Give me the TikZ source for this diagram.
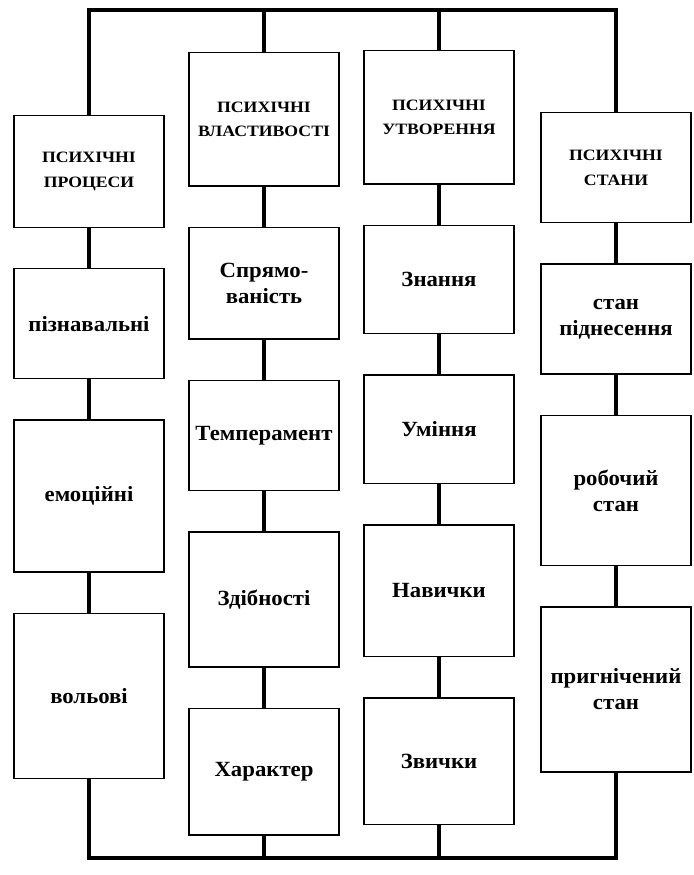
\documentclass[tikz,border=0pt]{standalone}
\usepackage{fontspec}
\setmainfont{Liberation Serif}
\newfontfamily\headfont{Liberation Serif}[FakeStretch=1.12]
\newfontfamily\itemfont{Liberation Serif}[FakeStretch=1.05]
\usetikzlibrary{positioning}

\begin{document}
\begin{tikzpicture}[x=0.03cm,y=-0.03cm,node distance=1.2cm]
        \tikzstyle{box}=[rectangle,draw,line width=1.2pt,minimum width=4.5cm,align=center,inner sep=2pt]
        \tikzstyle{head}=[box,font=\headfont\bfseries\fontsize{13.5}{21}\selectfont]
        \tikzstyle{item}=[box,font=\itemfont\bfseries\fontsize{18.5}{22}\selectfont]
        \tikzstyle{link}=[line width=3pt,line join=miter]

        \useasboundingbox (0,0) rectangle (693,875);
        \coordinate (top) at (0,10);
        \coordinate (bot) at (0,858);

        % processes
        \node [head, minimum height=3.35cm, anchor=north] (p1) at (89,115) {ПСИХІЧНІ\\ПРОЦЕСИ};
        \node [item, minimum height=3.3cm] (p2) [below=of p1] {пізнавальні};
        \node [item, minimum height=4.55cm] (p3) [below=of p2] {емоційні};
        \node [item, minimum height=4.95cm] (p4) [below=of p3] {вольові};

        % properties
        \node [head, minimum height=4.0cm, anchor=north] (v1) at (264,52) {ПСИХІЧНІ\\ВЛАСТИВОСТІ};
        \node [item, minimum height=3.35cm] (v2) [below=of v1] {Спрямо-\\ваність};
        \node [item, minimum height=3.3cm] (v3) [below=of v2] {Темперамент};
        \node [item, minimum height=4.05cm] (v4) [below=of v3] {Здібності};
        \node [item, minimum height=3.8cm] (v5) [below=of v4] {Характер};

        % formations
        \node [head, minimum height=4.0cm, anchor=north] (u1) at (439,50) {ПСИХІЧНІ\\УТВОРЕННЯ};
        \node [item, minimum height=3.25cm] (u2) [below=of u1] {Знання};
        \node [item, minimum height=3.25cm] (u3) [below=of u2] {Уміння};
        \node [item, minimum height=3.95cm] (u4) [below=of u3] {Навички};
        \node [item, minimum height=3.8cm] (u5) [below=of u4] {Звички};

        % states
        \node [head, minimum height=3.3cm, anchor=north] (s1) at (616,112) {ПСИХІЧНІ\\СТАНИ};
        \node [item, minimum height=3.3cm] (s2) [below=of s1] {стан\\піднесення};
        \node [item, minimum height=4.5cm] (s3) [below=of s2] {робочий\\стан};
        \node [item, minimum height=4.95cm] (s4) [below=of s3] {пригнічений\\стан};

        % columns
        \foreach \a/\b in {p1/p2,p2/p3,p3/p4,v1/v2,v2/v3,v3/v4,v4/v5,
                           u1/u2,u2/u3,u3/u4,u4/u5,s1/s2,s2/s3,s3/s4}
            \draw [link] (\a) -- (\b);

        % frame
        \draw [link] (p1.north) -- (p1 |- top) -- (s1 |- top) -- (s1.north);
        \draw [link] (p4.south) -- (p4 |- bot) -- (s4 |- bot) -- (s4.south);
        \draw [link] (v1.north) -- (v1 |- top);
        \draw [link] (u1.north) -- (u1 |- top);
        \draw [link] (v5.south) -- (v5 |- bot);
        \draw [link] (u5.south) -- (u5 |- bot);
\end{tikzpicture}
\end{document}
